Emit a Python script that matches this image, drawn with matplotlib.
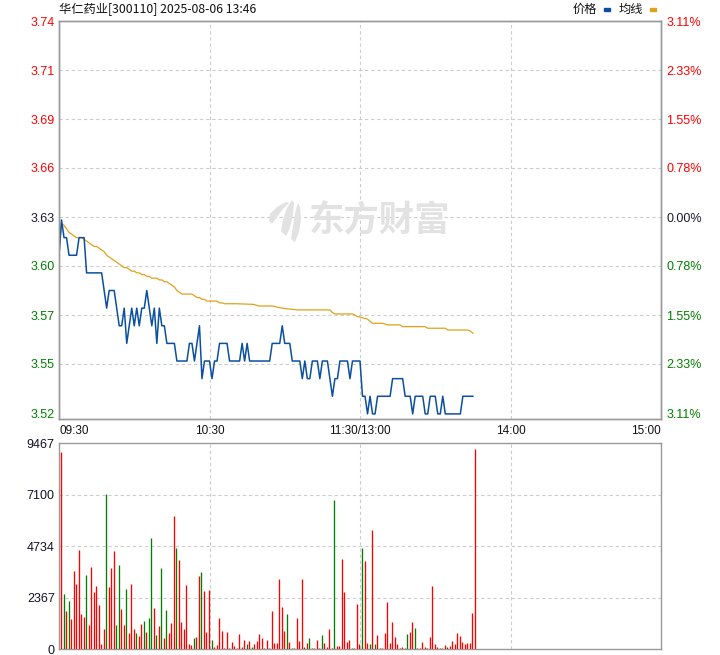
import numpy as np
import matplotlib
matplotlib.use('Agg')
import matplotlib.pyplot as plt
from matplotlib.patches import Rectangle, Polygon

W, H, DPI = 720, 655, 100

title = "华仁药业[300110] 2025-08-06 13:46"
legend_names = ["价格", "均线"]
watermark = "东方财富"
prev_close = 3.63
pct_limit = 0.0311
price_tick_labels = ["3.74", "3.71", "3.69", "3.66", "3.63", "3.60", "3.57", "3.55", "3.52"]
pct_tick_labels = ["3.11%", "2.33%", "1.55%", "0.78%", "0.00%", "0.78%", "1.55%", "2.33%", "3.11%"]
vol_ticks = [0, 2367, 4734, 7100, 9467]
vol_tick_labels = ["0", "2367", "4734", "7100", "9467"]
time_ticks = [0, 60, 120, 180, 240]
time_labels = ["09:30", "10:30", "11:30/13:00", "14:00", "15:00"]

price = [3.61, 3.63, 3.62, 3.62, 3.61, 3.61, 3.61, 3.61, 3.62, 3.62, 3.62,
         3.60, 3.60, 3.60, 3.60, 3.60, 3.60, 3.60,
         3.59, 3.58, 3.59, 3.59, 3.59,
         3.58, 3.57, 3.57, 3.58, 3.56, 3.57, 3.58, 3.57, 3.58, 3.57, 3.58, 3.58,
         3.59, 3.58, 3.57, 3.58, 3.56, 3.58, 3.57, 3.57, 3.56, 3.56, 3.56, 3.56,
         3.55, 3.55, 3.55, 3.55, 3.55, 3.56, 3.56, 3.55, 3.56, 3.57,
         3.54, 3.55, 3.55, 3.55, 3.54, 3.55, 3.55, 3.56, 3.56, 3.56, 3.56,
         3.55, 3.55, 3.55, 3.55, 3.55, 3.56, 3.55, 3.56, 3.55,
         3.55, 3.55, 3.55, 3.55, 3.55, 3.55, 3.55, 3.55,
         3.56, 3.56, 3.56, 3.56,
         3.57,
         3.56, 3.56, 3.56,
         3.55, 3.55, 3.55, 3.55,
         3.54, 3.55, 3.54, 3.54,
         3.55, 3.55, 3.55,
         3.54,
         3.55, 3.55, 3.55,
         3.54, 3.53, 3.54, 3.54,
         3.55, 3.55, 3.55, 3.55,
         3.54,
         3.55, 3.55, 3.55, 3.55,
         3.53, 3.53, 3.52, 3.53, 3.52, 3.52,
         3.53, 3.53, 3.53, 3.53, 3.53, 3.53,
         3.54, 3.54, 3.54, 3.54, 3.54,
         3.53, 3.53, 3.53,
         3.52,
         3.53, 3.53, 3.53, 3.53,
         3.52, 3.52,
         3.53, 3.53, 3.53,
         3.52, 3.52,
         3.53,
         3.52, 3.52, 3.52, 3.52, 3.52, 3.52, 3.52,
         3.53, 3.53, 3.53, 3.53, 3.53]

avg_price = [3.610, 3.628, 3.627, 3.625, 3.623, 3.622, 3.621, 3.620, 3.620, 3.620,
             3.619, 3.618, 3.617, 3.616, 3.615, 3.615, 3.614, 3.613, 3.612, 3.610,
             3.609, 3.608, 3.607, 3.606, 3.605, 3.604, 3.603, 3.603, 3.602, 3.601,
             3.601, 3.600, 3.600, 3.599, 3.599, 3.598, 3.598, 3.597, 3.597, 3.597,
             3.596, 3.596, 3.595, 3.595, 3.594, 3.593, 3.592, 3.590, 3.589, 3.588,
             3.588, 3.588, 3.588, 3.588, 3.587, 3.586, 3.586, 3.585, 3.585, 3.584,
             3.584, 3.584, 3.584, 3.584, 3.583, 3.583,
             3.5825, 3.5825, 3.5825, 3.5825, 3.5825, 3.5825, 3.5824, 3.5824, 3.5823, 3.5823, 3.5822, 3.5822,
             3.5820, 3.5815,
             3.5812, 3.5812, 3.5812, 3.5812, 3.5812, 3.5812,
             3.5810, 3.5805, 3.5803, 3.5800, 3.5798, 3.5796, 3.5795, 3.5793, 3.5792,
             3.579, 3.579, 3.579, 3.579, 3.579, 3.579, 3.579, 3.579, 3.579, 3.579, 3.579, 3.579, 3.579, 3.579,
             3.5775,
             3.5767, 3.5767, 3.5767, 3.5767, 3.5767, 3.5767, 3.5767, 3.5767,
             3.5760, 3.5752,
             3.5750, 3.5745, 3.5742, 3.5738, 3.5725,
             3.5714, 3.5714, 3.5714, 3.5714, 3.5714,
             3.5710,
             3.5705, 3.5705, 3.5705, 3.5705, 3.5705, 3.5705,
             3.5695, 3.5695, 3.5695, 3.5695, 3.5695, 3.5695, 3.5695, 3.5695, 3.5695, 3.5695,
             3.5686, 3.5686, 3.5686, 3.5686, 3.5686, 3.5686, 3.5686, 3.5686,
             3.5676, 3.5676, 3.5676, 3.5676, 3.5676, 3.5676, 3.5676, 3.5676, 3.5676,
             3.5670, 3.5658]

volume = [9051, 2516, 1749, 2209, 1381, 3590, 2991, 4556, 1611, 1473,
          3405, 1104, 3774, 2623, 2899, 2025, 230, 920, 7133, 2853,
          3728, 4510, 1104, 3866, 1841, 1104, 2761, 736, 2991, 920,
          736, 598, 1150, 1289, 782, 1427, 5108, 1887, 644, 1058,
          3728, 506, 1795, 736, 1197, 6121, 4648, 4096, 1243, 920,
          2945, 230, 184, 506, 552, 3359, 3544, 2669, 782, 2715,
          414, 92, 184, 1427, 828, 46, 782, 46, 322, 138,
          46, 690, 92, 414, 230, 368, 92, 230, 368, 690,
          506, 46, 414, 46, 1749, 276, 276, 3221, 1933, 828,
          1611, 322, 46, 46, 1427, 368, 3221, 92, 276, 506,
          46, 46, 414, 46, 644, 276, 92, 920, 46, 6857,
          138, 138, 4142, 2623, 322, 414, 46, 46, 2071, 230,
          4648, 4050, 276, 230, 5476, 230, 644, 46, 46, 736,
          2163, 276, 1243, 552, 230, 46, 92, 46, 690, 782,
          1243, 966, 46, 46, 322, 92, 46, 552, 2899, 230,
          92, 46, 46, 184, 92, 138, 368, 230, 736, 598,
          322, 230, 276, 276, 1657, 9204]

# 1 = up (red), -1 = down (green)
direction = [1, -1, 1, -1, 1, 1, 1, 1, 1, 1,
             -1, 1, 1, 1, 1, 1, 1, 1, -1, 1,
             1, 1, -1, -1, 1, 1, -1, 1, 1, 1,
             -1, 1, 1, -1, 1, -1, -1, 1, -1, 1,
             -1, 1, -1, 1, 1, 1, -1, 1, 1, 1,
             1, 1, 1, -1, 1, 1, -1, 1, 1, 1,
             -1, 1, 1, 1, 1, 1, 1, -1, 1, 1,
             1, 1, 1, 1, -1, 1, -1, 1, 1, 1,
             1, -1, 1, 1, 1, 1, 1, 1, 1, 1,
             -1, 1, -1, -1, 1, 1, 1, -1, 1, -1,
             1, 1, 1, 1, -1, 1, 1, 1, 1, -1,
             1, 1, 1, 1, 1, 1, -1, 1, 1, 1,
             -1, 1, 1, -1, 1, -1, 1, 1, 1, 1,
             1, 1, 1, 1, 1, 1, 1, -1, -1, 1,
             1, -1, 1, 1, 1, 1, -1, 1, 1, 1,
             1, -1, 1, 1, -1, 1, 1, 1, 1, 1,
             1, 1, 1, 1, 1, 1]

# ---------------- styling ----------------
RED = '#ff0000'
GREEN = '#008000'
DARK = '#1a1a2e'
FRAME = '#999999'
GRID = '#cccccc'
PRICE_C = '#0a4fa0'
AVG_C = '#e0a21a'
WM_C = '#e2e2e2'
LATIN = ['Liberation Sans', 'DejaVu Sans']
CJK = ['Noto Sans CJK SC', 'DejaVu Sans']

plt.rcParams['font.family'] = LATIN

fig = plt.figure(figsize=(W / DPI, H / DPI), dpi=DPI)
fig.patch.set_facecolor('white')


def frac(x0, y0, x1, y1):
    return [x0 / W, 1 - y1 / H, (x1 - x0) / W, (y1 - y0) / H]


def fig_pts(pts):
    return [(px / W, 1 - py / H) for px, py in pts]


ax = fig.add_axes(frac(59, 21, 661, 419))
axv = fig.add_axes(frac(59, 443.3, 661, 649))

ymin = prev_close * (1 - pct_limit)
ymax = prev_close * (1 + pct_limit)
idx = np.arange(len(price))

# -------- watermark (drawn first, under everything) --------
blades = [
    [(270, 214), (277, 207), (286, 202), (289, 203), (283, 209), (277, 217), (272, 224), (269, 221)],
    [(281, 231), (283, 219), (287, 208), (292, 200), (294, 203), (293, 215), (290, 228), (286, 236)],
    [(291, 239), (293, 226), (295, 213), (298, 203), (300, 207), (301, 219), (299, 232), (295, 242)],
]
for b in blades:
    fig.patches.append(Polygon(fig_pts(b), closed=True, transform=fig.transFigure,
                               facecolor=WM_C, edgecolor='none', figure=fig, zorder=0))
ax.set_facecolor('none')
fig.text(380 / W, 1 - 221 / H, watermark, ha='center', va='center', fontsize=25.5,
         fontweight='bold', color=WM_C, family=CJK, zorder=0)

# -------- main price panel --------
ax.set_xlim(0, 240)
ax.set_ylim(ymin, ymax)
ygrid = np.linspace(ymax, ymax - (ymax - ymin) * 392 / 398, 9)
for yv in ygrid[1:-1]:
    ax.axhline(yv, color=GRID, lw=0.8, ls=(0, (3, 2.5)), zorder=1)
for t in time_ticks[1:-1]:
    ax.axvline(t, color=GRID, lw=0.8, ls=(0, (3, 2.5)), zorder=1)

ax.plot(idx, avg_price, color=AVG_C, lw=0.9, zorder=3)
ax.plot(idx, price, color=PRICE_C, lw=1.1, zorder=4)

ax.set_yticks(ygrid)
ax.set_yticklabels(price_tick_labels)
ax.tick_params(axis='y', length=0, pad=3, labelsize=9)
for j, lab in enumerate(ax.get_yticklabels()):
    lab.set_color(RED if j < 4 else (DARK if j == 4 else GREEN))

ax2 = ax.twinx()
ax2.set_ylim(ymin, ymax)
ax2.set_yticks(ygrid)
ax2.set_yticklabels(pct_tick_labels)
ax2.tick_params(axis='y', length=0, pad=4, labelsize=9)
for j, lab in enumerate(ax2.get_yticklabels()):
    lab.set_color(RED if j < 4 else (DARK if j == 4 else GREEN))

ax.set_xticks(time_ticks)
ax.set_xticklabels(time_labels)
ax.tick_params(axis='x', length=0, pad=4, labelsize=8.5, labelcolor='#111111')
xl = ax.get_xticklabels()
xl[0].set_ha('left')
xl[-1].set_ha('right')

for a in (ax, ax2):
    for s in a.spines.values():
        s.set_color(FRAME)
        s.set_linewidth(1.0)

# -------- volume panel --------
axv.set_xlim(0, 240)
axv.set_ylim(0, vol_ticks[-1])
for yv in vol_ticks[1:-1]:
    axv.axhline(yv, color=GRID, lw=0.8, ls=(0, (3, 2.5)), zorder=1)
for t in time_ticks[1:-1]:
    axv.axvline(t, color=GRID, lw=0.8, ls=(0, (3, 2.5)), zorder=1)
bar_colors = [RED if d > 0 else GREEN for d in direction]
axv.vlines(idx + 0.8, 0, volume, colors=bar_colors, lw=0.95, zorder=3)
axv.set_yticks(vol_ticks)
axv.set_yticklabels(vol_tick_labels)
axv.tick_params(axis='y', length=0, pad=3, labelsize=9, labelcolor='#111122')
axv.set_xticks([])
for s in axv.spines.values():
    s.set_color(FRAME)
    s.set_linewidth(1.0)

# -------- header texts --------
fig.text(59 / W, 1 - 9 / H, title, ha='left', va='center', fontsize=8.8,
         family=CJK, color='#111111')
fig.text(573 / W, 1 - 9 / H, legend_names[0], ha='left', va='center', fontsize=8.8,
         family=CJK, color='#111111')
fig.text(619 / W, 1 - 9 / H, legend_names[1], ha='left', va='center', fontsize=8.8,
         family=CJK, color='#111111')
fig.patches.append(Rectangle((604 / W, 1 - 10.5 / H), 6 / W, 3 / H, transform=fig.transFigure,
                             color=PRICE_C, figure=fig))
fig.patches.append(Rectangle((650 / W, 1 - 10.5 / H), 6 / W, 3 / H, transform=fig.transFigure,
                             color=AVG_C, figure=fig))

fig.savefig('out.png', dpi=DPI, facecolor='white')
